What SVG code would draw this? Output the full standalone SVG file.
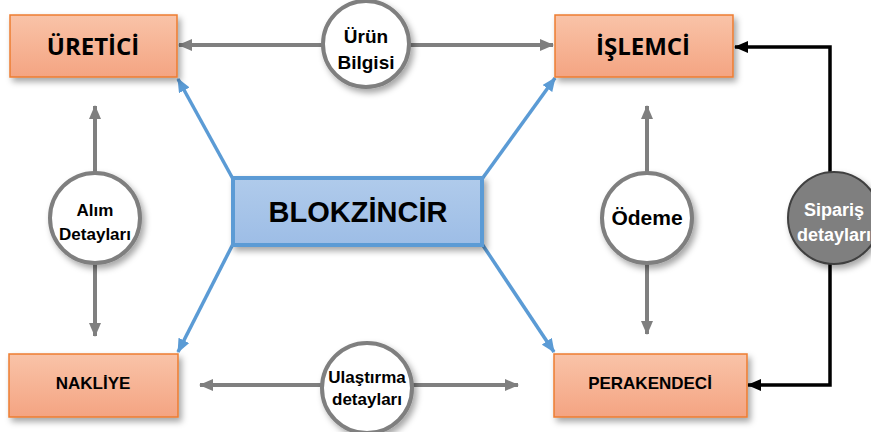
<svg xmlns="http://www.w3.org/2000/svg" width="871" height="432" viewBox="0 0 871 432">
<defs>
<linearGradient id="og" x1="0" y1="0" x2="0" y2="1"><stop offset="0" stop-color="#f9c3a8"/><stop offset="1" stop-color="#f4a482"/></linearGradient>
<linearGradient id="bg" x1="0" y1="0" x2="0" y2="1"><stop offset="0" stop-color="#b0cbeb"/><stop offset="1" stop-color="#9dbde6"/></linearGradient>
<filter id="sh" x="-20%" y="-20%" width="150%" height="160%"><feDropShadow dx="3" dy="4" stdDeviation="3" flood-color="#000" flood-opacity="0.35"/></filter>
<marker id="ga" markerUnits="userSpaceOnUse" viewBox="0 0 14 12" markerWidth="14" markerHeight="12" refX="13" refY="6" orient="auto-start-reverse"><path d="M0,0 L14,6 L0,12 z" fill="#7f7f7f"/></marker>
<marker id="ba" markerUnits="userSpaceOnUse" viewBox="0 0 14 12" markerWidth="14" markerHeight="12" refX="13" refY="6" orient="auto"><path d="M0,0 L14,6 L0,12 z" fill="#5b9bd5"/></marker>
<marker id="ka" markerUnits="userSpaceOnUse" viewBox="0 0 14 12" markerWidth="14" markerHeight="12" refX="13" refY="6" orient="auto"><path d="M0,0 L14,6 L0,12 z" fill="#000"/></marker>
</defs>
<style>
.box{fill:url(#og);stroke:#ed7d31;stroke-width:1.5;filter:url(#sh)}
.gl{stroke:#7f7f7f;stroke-width:4;fill:none;marker-start:url(#ga);marker-end:url(#ga)}
.bl{stroke:#5b9bd5;stroke-width:3.5;fill:none;marker-end:url(#ba)}
.kl{stroke:#000;stroke-width:3.5;fill:none;marker-end:url(#ka)}
.circ{fill:#fff;stroke:#7f7f7f;stroke-width:4;filter:url(#sh)}
.t{font-family:"Liberation Sans",Arial,sans-serif;font-weight:bold;fill:#000;text-anchor:middle}
.tc{font-family:"Open Sans","Liberation Sans",sans-serif;font-weight:bold;fill:#000;text-anchor:middle}
.w{fill:#fff}
</style>
<g id="connectors">
<line class="gl" x1="179" y1="45" x2="553" y2="45"/>
<line class="gl" x1="95" y1="106" x2="95" y2="336"/>
<line class="gl" x1="647" y1="106" x2="647" y2="334"/>
<line class="gl" x1="200" y1="385" x2="518" y2="385"/>
<line class="bl" x1="233" y1="179" x2="178" y2="79"/>
<line class="bl" x1="482" y1="179" x2="555" y2="78"/>
<line class="bl" x1="233" y1="244" x2="178" y2="352"/>
<line class="bl" x1="482" y1="244" x2="554" y2="352"/>
<polyline class="kl" points="830,190 830,47 735,47"/>
<polyline class="kl" points="830,240 830,385 748,385"/>
</g>
<g id="uretici"><rect class="box" x="10" y="15" width="167" height="62"/><text class="tc" x="93" y="55" font-size="24">ÜRETİCİ</text></g>
<g id="islemci"><rect class="box" x="555" y="15" width="178" height="62"/><text class="tc" x="643" y="55" font-size="24">İŞLEMCİ</text></g>
<g id="nakliye"><rect class="box" x="9" y="354" width="169" height="63"/><text class="t" x="93" y="389" font-size="17">NAKLİYE</text></g>
<g id="perakendeci"><rect class="box" x="554" y="354" width="193" height="63"/><text class="t" x="650" y="389" font-size="17">PERAKENDECİ</text></g>
<g id="blokzincir"><rect x="233" y="178" width="249" height="67" fill="url(#bg)" stroke="#5b9bd5" stroke-width="4" filter="url(#sh)"/><text class="t" x="358" y="222" font-size="29">BLOKZİNCİR</text></g>
<g id="urun-bilgisi"><circle class="circ" cx="366" cy="44" r="43"/><text class="t" x="366" y="43" font-size="19">Ürün</text><text class="t" x="366" y="69" font-size="19">Bilgisi</text></g>
<g id="alim-detaylari"><circle class="circ" cx="95" cy="218" r="45"/><text class="t" x="95" y="216" font-size="17">Alım</text><text class="t" x="95" y="240" font-size="17">Detayları</text></g>
<g id="odeme"><circle class="circ" cx="647" cy="218" r="45"/><text class="t" x="647" y="225" font-size="21">Ödeme</text></g>
<g id="siparis-detaylari"><circle cx="834" cy="218" r="46" fill="#7f7f7f" stroke="#404040" stroke-width="2" filter="url(#sh)"/><text class="t w" x="834" y="216" font-size="18">Sipariş</text><text class="t w" x="834" y="241" font-size="18">detayları</text></g>
<g id="ulastirma-detaylari"><circle class="circ" cx="367" cy="388" r="45"/><text class="t" x="367" y="383" font-size="17">Ulaştırma</text><text class="t" x="367" y="405" font-size="17">detayları</text></g>
</svg>
